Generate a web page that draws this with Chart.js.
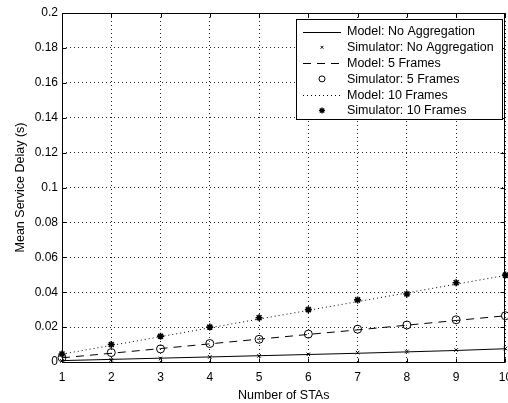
<!DOCTYPE html>
<html>
<head>
<meta charset="utf-8">
<script src="https://cdn.jsdelivr.net/npm/chart.js@4/dist/chart.umd.min.js"></script>
<style>
html,body{margin:0;padding:0;background:#fff;overflow:hidden;}
#wrap{width:508px;height:403px;position:relative;overflow:hidden;}
</style>
</head>
<body>
<div id="wrap"><canvas id="c" width="511" height="403"></canvas></div>
<script>
const stas = [1,2,3,4,5,6,7,8,9,10];
const yTicks = [0,0.02,0.04,0.06,0.08,0.1,0.12,0.14,0.16,0.18,0.2];
const modelNoAgg = [0.0008,0.0015,0.0022,0.0029,0.0036,0.0043,0.0050,0.0058,0.0066,0.0076];
const simNoAgg   = [0.0006,0.0012,0.0019,0.0029,0.0035,0.0044,0.0054,0.0060,0.0069,0.0077];
const model5     = [0.0024,0.0050,0.0077,0.0104,0.0131,0.0158,0.0184,0.0211,0.0238,0.0265];
const sim5       = [0.0025,0.0054,0.0075,0.0106,0.0130,0.0160,0.0188,0.0212,0.0242,0.0265];
const model10    = [0.0045,0.0095,0.0145,0.0196,0.0246,0.0296,0.0346,0.0396,0.0446,0.0496];
const sim10      = [0.0046,0.0100,0.0148,0.0200,0.0254,0.0300,0.0356,0.0390,0.0454,0.0498];
const labels = ['Model: No Aggregation','Simulator: No Aggregation','Model: 5 Frames','Simulator: 5 Frames','Model: 10 Frames','Simulator: 10 Frames'];

const FONT = "'Liberation Sans', Arial, Helvetica, sans-serif";
const pts = arr => arr.map((v,i)=>({x:stas[i], y:v}));

function lineDs(label, data, dash){
  return {label, data:pts(data), showLine:true, borderColor:'#000', borderWidth:1, borderDash:dash, pointRadius:0, fill:false, tension:0, order:2, clip:false};
}
function markDs(label, data, style, r, bw){
  return {label, data:pts(data), showLine:false, borderColor:'#000', backgroundColor: style==='circle' ? 'rgba(255,255,255,0)' : '#000', pointStyle:style, pointRadius:r, pointBorderWidth:bw, order:1, clip:false};
}

const datasets = [
  lineDs(labels[0], modelNoAgg, []),
  markDs(labels[1], simNoAgg, 'crossRot', 2.5, 1),
  lineDs(labels[2], model5, [8,6]),
  markDs(labels[3], sim5, 'circle', 4, 1),
  lineDs(labels[4], model10, [1,3]),
  markDs(labels[5], sim10, 'star', 3.5, 1.6)
];

function drawMarker(ctx, style, x, y, r, bw){
  ctx.save();
  ctx.strokeStyle='#000'; ctx.lineWidth=bw; ctx.setLineDash([]);
  ctx.beginPath();
  if(style==='circle'){ ctx.arc(x,y,r,0,Math.PI*2); ctx.stroke(); }
  else if(style==='crossRot'){
    const d=r*0.7071;
    ctx.moveTo(x-d,y-d); ctx.lineTo(x+d,y+d); ctx.moveTo(x+d,y-d); ctx.lineTo(x-d,y+d); ctx.stroke();
  } else if(style==='star'){
    const d=r*0.7071;
    ctx.moveTo(x-r,y); ctx.lineTo(x+r,y); ctx.moveTo(x,y-r); ctx.lineTo(x,y+r);
    ctx.moveTo(x-d,y-d); ctx.lineTo(x+d,y+d); ctx.moveTo(x+d,y-d); ctx.lineTo(x-d,y+d); ctx.stroke();
  }
  ctx.restore();
}

const framePlugin = {
  id:'frame',
  afterDatasetsDraw(chart){
    const {ctx, chartArea:a, scales:{x, y}} = chart;
    ctx.save();
    ctx.strokeStyle='#000'; ctx.lineWidth=1; ctx.setLineDash([]);
    const L=Math.round(a.left)+0.5, R=Math.round(a.right)-0.5, T=Math.round(a.top)+0.5, B=Math.round(a.bottom)+0.5;
    ctx.strokeRect(L, T, R-L, B-T);
    const tl=4;
    ctx.beginPath();
    stas.forEach(v=>{
      const px=Math.round(x.getPixelForValue(v))+0.5;
      ctx.moveTo(px,B); ctx.lineTo(px,B-tl);
      ctx.moveTo(px,T); ctx.lineTo(px,T+tl);
    });
    yTicks.forEach(v=>{
      const py=Math.round(y.getPixelForValue(v))+0.5;
      ctx.moveTo(L,py); ctx.lineTo(L+tl,py);
      ctx.moveTo(R,py); ctx.lineTo(R-tl,py);
    });
    ctx.stroke();
    ctx.restore();
  },
  afterDraw(chart){
    const ctx=chart.ctx;
    const bx=296, by=19, bw=206, bh=100;
    ctx.save();
    ctx.fillStyle='#fff'; ctx.fillRect(bx,by,bw,bh);
    ctx.strokeStyle='#000'; ctx.lineWidth=1; ctx.setLineDash([]);
    ctx.strokeRect(bx+0.5,by+0.5,bw,bh);
    const rowY=[31.5,47.3,63.1,78.9,94.7,110.5];
    ctx.font='12.5px '+FONT; ctx.fillStyle='#000'; ctx.textBaseline='middle'; ctx.textAlign='left';
    chart.data.datasets.forEach((ds,i)=>{
      const yy=rowY[i];
      if(ds.showLine){
        ctx.save(); ctx.strokeStyle='#000'; ctx.lineWidth=1; ctx.setLineDash(ds.borderDash||[]);
        ctx.beginPath(); ctx.moveTo(303,Math.round(yy)+0.5); ctx.lineTo(341,Math.round(yy)+0.5); ctx.stroke(); ctx.restore();
      } else {
        const r = ds.pointStyle==='circle'?3:(ds.pointStyle==='star'?3:2);
        drawMarker(ctx, ds.pointStyle, 322, yy, r, ds.pointStyle==='star'?1.4:1);
      }
      ctx.fillText(ds.label, 347, yy+0.5);
    });
    ctx.restore();
  }
};

new Chart(document.getElementById('c'), {
  type:'scatter',
  data:{datasets},
  options:{
    responsive:false, animation:false,
    layout:{padding:{left:0,right:0,top:13,bottom:0}},
    plugins:{legend:{display:false}, tooltip:{enabled:false}},
    scales:{
      x:{
        type:'linear', min:1, max:10,
        afterBuildTicks(s){ s.ticks = stas.map(v=>({value:v})); },
        afterFit(s){ s.height=41; s.paddingLeft=0; s.paddingRight=0; },
        grid:{color:'#222', lineWidth:1, drawTicks:false},
        border:{display:false, dash:[1,3]},
        ticks:{color:'#000', font:{family:FONT,size:12}, padding:8, maxRotation:0, autoSkip:false},
        title:{display:true, text:'Number of STAs', color:'#000', font:{family:FONT,size:12.5}, padding:{top:0,bottom:0}}
      },
      y:{
        type:'linear', min:0, max:0.2,
        afterBuildTicks(s){ s.ticks = yTicks.map(v=>({value:v})); },
        afterFit(s){ s.width=62; s.paddingTop=0; s.paddingBottom=0; },
        grid:{color:'#222', lineWidth:1, drawTicks:false},
        border:{display:false, dash:[1,3]},
        ticks:{color:'#000', font:{family:FONT,size:12}, padding:4, callback:v=>String(+v.toFixed(2))},
        title:{display:true, text:'Mean Service Delay (s)', color:'#000', font:{family:FONT,size:12.5}, padding:{top:13,bottom:0}}
      }
    }
  },
  plugins:[framePlugin]
});
</script>
</body>
</html>
